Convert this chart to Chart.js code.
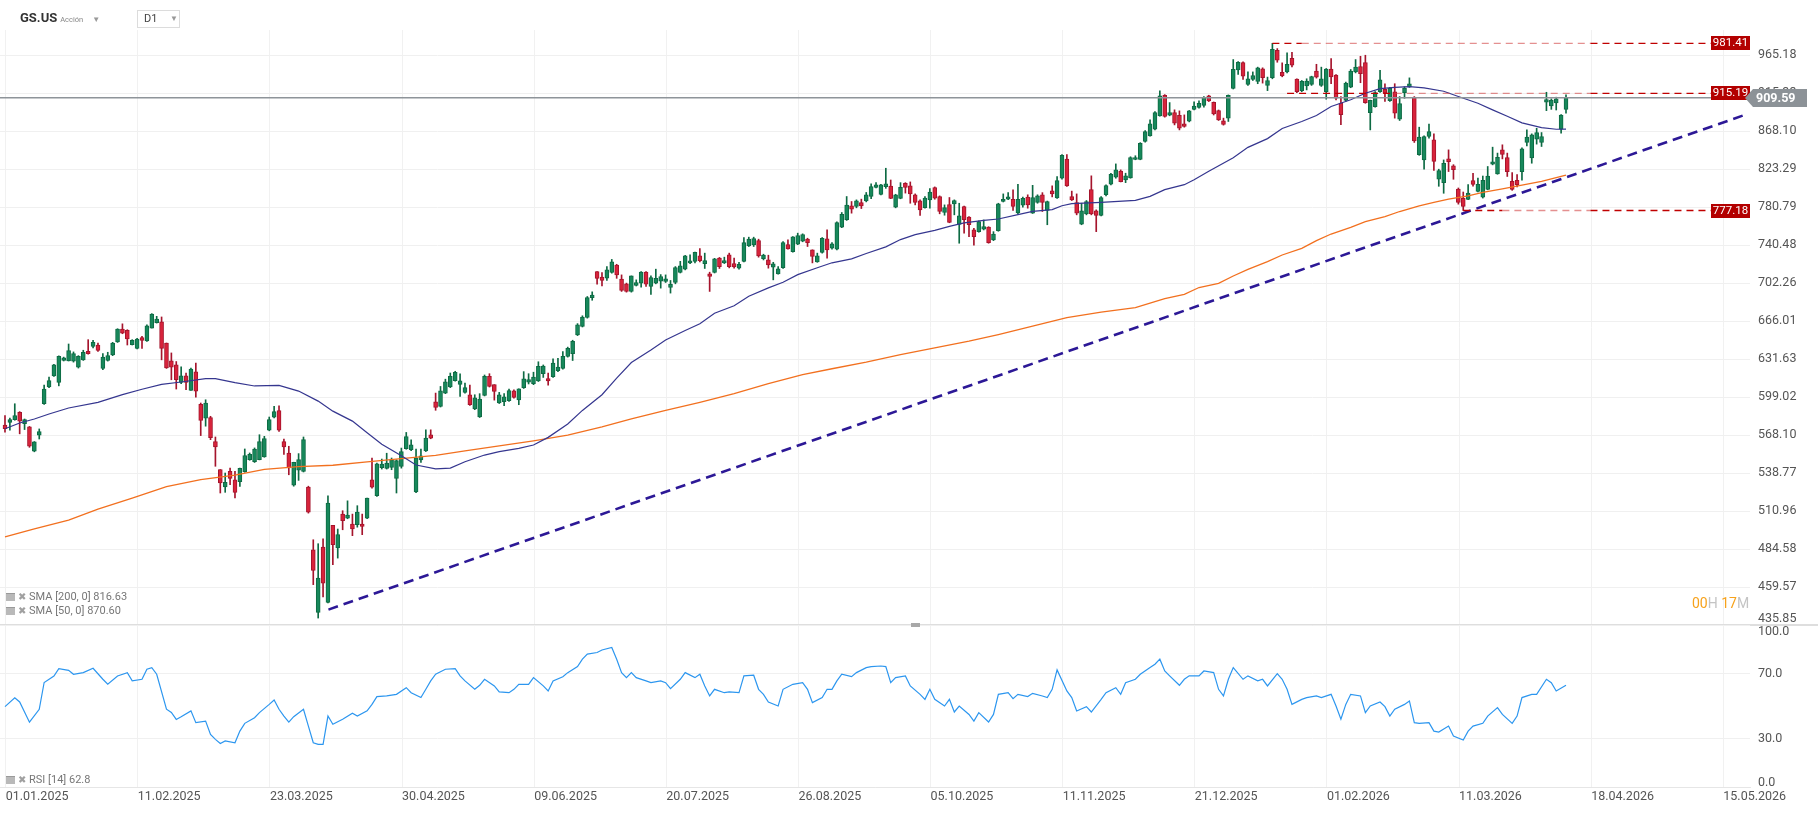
<!DOCTYPE html>
<html lang="es">
<head>
<meta charset="utf-8">
<title>GS.US D1</title>
<script src="https://cdn.jsdelivr.net/npm/chart.js@4.4.1/dist/chart.umd.min.js"></script>
<style>
  html, body { margin: 0; padding: 0; background: #fff; }
  body { position: relative; width: 1818px; height: 813px; overflow: hidden; font-family: Roboto, Arial, sans-serif; }
  canvas { position: absolute; left: 0; }
  #main { top: 0; }
  #rsi { top: 624px; }
  .abs { position: absolute; white-space: nowrap; }
  #sym { left: 20px; top: 10px; font-size: 13px; font-weight: bold; color: #333; }
  #sym small { font-size: 7.5px; font-weight: normal; color: #888; margin-left: 3px; }
  .car { font-size: 8px; color: #999; font-weight: normal; }
  #sym .car { margin-left: 9px; }
  #tf { left: 137px; top: 10px; width: 41px; height: 16px; border: 1px solid #dcdcdc; font-size: 11px; color: #444; line-height: 16px; box-sizing: content-box; }
  #tf span.t { margin-left: 6px; }
  #tf .car { position: absolute; left: 32px; top: 0; }
  .leg { left: 6px; font-size: 11px; color: #777; line-height: 13px; }
  .ico { display: inline-block; width: 9px; height: 7px; background: #b9b9b9; border-top: 1px solid #9a9a9a; vertical-align: -1px; }
  .x { color: #a0a0a0; font-size: 10px; margin: 0 3px 0 3px; }
  #sep { left: 0; top: 624px; width: 1818px; height: 2px; background: #dedede; }
  #grip { left: 911px; top: 623px; width: 9px; height: 4px; background: #a8a8a8; }
  #clock { left: 1692px; top: 595px; font-size: 14px; }
  #clock .o { color: #f7a21b; }
  #clock .g { color: #c4c4c4; }
</style>
</head>
<body>
<canvas id="main" width="1818" height="626"></canvas>
<div id="sep" class="abs"></div>
<canvas id="rsi" width="1818" height="189"></canvas>

<div id="sym" class="abs">GS.US<small>Acción</small><span class="car">&#9660;</span></div>
<div id="tf" class="abs"><span class="t">D1</span><span class="car">&#9660;</span></div>
<div class="abs leg" style="top:590px"><span class="ico"></span><span class="x">&#10006;</span>SMA [200, 0] 816.63</div>
<div class="abs leg" style="top:604px"><span class="ico"></span><span class="x">&#10006;</span>SMA [50, 0] 870.60</div>
<div id="clock" class="abs"><span class="o">00</span><span class="g">H</span> <span class="o">17</span><span class="g">M</span></div>
<div id="grip" class="abs"></div>
<div class="abs leg" style="top:773px"><span class="ico"></span><span class="x">&#10006;</span>RSI [14] 62.8</div>

<script>
// axis labels
var dateLabels = ['01.01.2025', '11.02.2025', '23.03.2025', '30.04.2025', '09.06.2025', '20.07.2025', '26.08.2025',
                  '05.10.2025', '11.11.2025', '21.12.2025', '01.02.2026', '11.03.2026', '18.04.2026', '15.05.2026'];
var priceTicks = [435.85, 459.57, 484.58, 510.96, 538.77, 568.10, 599.02, 631.63, 666.01, 702.26,
                  740.48, 780.79, 823.29, 868.10, 915.33, 965.18];
var rsiTicks = [0, 30, 70, 100];

// daily candles, one entry per session
var opens = [
576.0,578.3,580.5,586.4,577.3,574.7,555.4,568.1,593.5,607.5,
617.1,611.4,630.5,630.1,629.9,624.6,631.0,638.6,643.0,644.2,
623.5,630.4,635.3,646.9,658.7,657.5,644.5,641.2,650.8,647.8,
659.6,664.7,665.4,646.0,630.1,626.6,611.4,617.1,604.7,620.5,
593.0,581.6,582.1,563.0,541.4,528.4,540.1,533.8,532.3,539.9,
549.0,547.5,549.0,551.0,572.0,582.4,587.8,563.0,554.1,529.7,
540.9,540.1,528.3,484.1,443.6,485.9,449.8,500.8,485.3,508.8,
506.0,501.7,501.3,501.7,506.0,533.8,522.0,542.8,542.3,543.0,
534.8,543.8,557.4,556.6,524.7,548.8,555.6,568.4,595.1,591.3,
602.4,607.5,613.0,609.7,603.0,601.0,589.2,582.7,600.4,616.6,
609.5,594.2,595.3,596.1,604.3,596.6,607.0,611.6,610.4,612.6,
618.9,614.7,616.3,621.6,623.4,634.0,636.5,653.3,661.2,669.4,
688.3,713.8,708.2,707.2,712.8,720.2,706.2,701.6,694.2,700.0,
702.3,713.1,699.0,702.3,704.2,703.9,698.1,702.9,712.8,716.1,
722.4,724.0,729.5,721.7,711.4,712.8,727.2,722.4,730.5,721.7,
717.1,724.0,739.8,740.8,745.3,726.6,725.4,718.0,711.4,717.7,
741.2,733.7,741.5,744.6,746.7,735.7,723.4,733.0,747.0,737.4,
736.4,759.3,767.2,782.2,781.5,785.9,787.7,792.5,802.7,794.8,
803.5,804.2,780.8,790.5,807.3,804.4,794.4,787.7,780.4,788.8,
802.5,792.5,775.0,783.7,784.4,762.3,781.5,770.0,756.4,754.6,
757.1,759.3,745.9,755.7,787.0,789.5,789.5,774.7,782.9,791.8,
774.3,785.9,794.4,777.2,798.8,791.0,813.0,835.0,792.5,785.8,
762.6,773.6,800.3,776.8,771.8,794.6,806.4,814.1,821.0,811.1,
813.4,834.6,834.6,855.8,862.5,870.6,886.9,912.8,887.7,891.0,
887.7,877.1,880.3,895.0,897.3,900.0,912.0,903.9,893.4,880.8,
884.1,921.6,945.6,955.3,926.7,933.1,930.5,947.1,925.4,935.3,
972.0,942.6,943.0,961.2,933.6,918.7,924.6,926.8,944.2,925.4,
917.3,946.7,938.8,902.8,906.2,923.3,943.0,950.1,955.3,891.0,
898.5,917.4,920.4,905.9,917.0,882.8,916.2,923.7,909.8,840.2,
834.0,861.7,857.6,811.8,808.1,835.2,827.3,800.9,790.4,789.3,
810.3,798.3,791.9,800.5,829.0,817.9,845.8,836.7,809.5,810.7,
820.6,854.6,836.4,858.5,854.6,904.0,899.3,903.2,870.5,895.0
];
var highs = [
583.7,581.8,593.5,587.0,581.0,575.0,563.0,573.0,609.2,616.0,
627.0,634.5,633.4,645.1,638.0,634.7,639.5,649.0,648.4,646.0,
636.5,637.7,646.6,659.0,663.5,658.1,649.0,650.2,652.0,662.6,
673.0,670.5,669.9,646.0,637.1,629.5,624.9,619.4,623.8,628.1,
594.1,596.8,583.2,566.6,541.4,538.8,542.6,540.1,542.6,557.2,
554.1,558.0,568.4,567.1,582.6,591.3,591.8,565.0,559.3,547.0,
553.6,566.6,529.0,490.9,488.2,491.6,522.0,500.8,498.3,511.2,
518.3,508.8,514.8,508.8,520.3,550.2,546.3,549.4,553.9,550.2,
548.8,557.9,570.2,564.4,557.1,557.1,572.3,572.3,602.4,608.0,
614.2,619.5,621.0,618.9,610.8,609.1,601.0,601.9,617.8,618.9,
609.5,603.0,601.9,605.7,605.2,606.0,620.7,618.9,620.2,629.3,
626.5,619.5,631.9,632.3,638.4,642.3,648.5,663.7,671.0,689.3,
693.8,713.8,712.8,718.8,725.9,721.0,710.4,702.3,709.4,705.5,
713.8,713.8,709.4,716.1,710.7,710.4,704.9,718.7,724.0,730.0,
730.5,733.5,737.0,732.3,713.1,727.0,727.9,728.2,732.3,727.2,
723.0,748.4,748.8,748.8,746.7,731.2,730.2,723.0,718.7,744.3,
746.0,749.5,753.0,752.3,747.7,735.7,732.3,748.4,756.5,743.2,
764.9,775.0,792.5,787.0,788.8,789.6,797.0,806.6,808.0,806.0,
824.4,811.0,795.0,808.0,808.0,808.8,795.4,788.8,792.5,801.4,
803.2,793.2,783.3,791.4,788.8,785.1,782.0,770.7,758.2,766.0,
767.0,759.8,754.6,785.1,795.4,796.8,799.8,806.1,791.8,794.4,
805.0,794.4,796.8,787.5,804.4,815.0,840.2,840.2,798.5,795.4,
785.1,788.1,815.7,777.9,792.5,805.4,818.7,829.4,822.5,818.7,
837.7,838.9,854.4,869.0,881.9,892.3,918.3,913.6,903.5,894.4,
893.1,888.1,893.6,904.4,905.6,911.1,912.8,904.3,894.2,884.1,
913.2,959.4,956.7,956.2,943.0,943.0,949.3,948.4,936.2,981.41,
974.2,955.0,968.3,969.2,934.0,931.8,934.0,937.4,953.1,949.3,
947.5,960.7,939.6,911.1,929.7,946.2,959.4,963.8,965.2,906.6,
917.4,945.1,927.6,922.9,927.6,911.1,923.7,935.2,911.1,873.0,
862.5,876.7,864.9,823.3,834.0,845.8,828.5,802.0,797.5,805.7,
818.7,813.3,815.5,826.4,849.0,842.0,851.8,842.0,819.4,817.1,
848.2,869.7,864.9,871.7,866.5,916.6,908.2,910.3,888.5,913.2
];
var lows = [
570.4,572.0,580.0,569.1,572.5,558.5,555.0,565.0,593.0,607.0,
616.5,608.5,630.0,630.0,629.0,623.8,630.5,636.0,641.5,638.5,
622.3,629.9,634.7,646.5,654.4,644.2,644.2,640.6,641.2,647.5,
659.6,664.2,631.0,623.5,613.7,605.8,610.3,605.3,604.7,599.0,
567.7,575.2,564.5,543.9,524.0,524.5,530.2,520.4,528.9,539.4,
548.5,546.8,548.8,550.8,571.5,581.8,571.0,553.0,537.5,529.0,
533.3,539.6,509.5,461.1,440.1,453.2,449.5,474.1,478.5,497.8,
505.5,493.7,499.6,494.4,505.5,527.6,521.5,541.8,541.8,541.3,
524.0,542.5,557.0,555.8,524.2,546.8,555.2,565.2,588.1,590.8,
601.9,607.0,612.5,599.6,602.4,592.1,588.6,582.2,600.0,607.5,
596.5,593.7,591.9,595.5,598.2,592.7,606.3,610.1,609.5,612.2,
615.7,609.1,615.8,620.7,622.8,633.4,630.4,652.7,660.6,668.8,
685.7,701.3,699.6,704.9,712.1,707.0,694.2,693.5,693.5,699.5,
698.4,699.0,691.3,701.6,697.4,702.9,692.6,701.6,712.3,715.4,
721.7,722.4,723.4,716.8,694.2,712.3,716.8,721.7,717.4,717.1,
716.1,723.5,739.1,739.1,728.2,725.4,717.1,705.5,711.1,716.8,
736.4,733.2,741.0,744.0,739.1,722.4,723.0,732.3,727.2,736.4,
735.7,758.8,766.5,774.3,780.1,779.3,786.6,790.1,802.0,794.3,
801.6,790.1,780.1,790.0,796.3,785.1,783.3,771.8,779.7,779.7,
789.5,773.6,772.1,764.0,772.5,742.5,752.9,749.4,740.5,754.0,
756.4,742.5,745.2,755.0,786.5,789.0,777.2,773.6,780.8,779.7,
774.0,785.1,776.1,761.9,792.1,790.5,811.9,803.7,788.1,772.5,
761.9,772.5,772.5,754.6,771.4,793.2,805.4,813.0,808.8,808.0,
813.0,834.2,834.2,855.0,862.0,869.7,886.5,885.3,887.0,875.8,
869.7,873.0,879.5,894.4,896.4,897.7,904.8,888.0,881.2,875.5,
880.0,920.8,939.6,933.1,925.4,931.8,927.6,928.4,918.7,934.0,
955.8,936.6,941.7,949.6,916.2,917.3,919.6,925.4,934.9,924.1,
907.8,927.6,907.0,876.0,905.0,922.4,941.7,928.9,902.6,869.7,
897.7,916.5,905.0,905.0,884.1,881.2,909.0,922.9,854.6,839.4,
823.3,859.6,821.8,803.9,796.1,820.6,811.8,784.1,777.18,789.0,
803.9,797.5,790.8,800.0,828.3,817.5,835.2,815.0,799.4,803.2,
810.7,850.6,830.2,852.6,849.8,893.4,895.0,894.2,865.7,890.1
];
var closes = [
573.3,580.5,583.7,579.2,580.5,559.3,562.7,570.9,605.8,613.1,
626.6,634.1,632.8,639.1,636.5,634.1,637.7,636.5,646.6,639.4,
633.5,634.7,646.0,658.7,655.0,649.6,648.4,649.6,648.4,661.7,
672.7,668.0,641.2,624.0,624.6,613.7,617.1,611.4,622.9,603.9,
579.9,594.1,566.1,558.8,531.4,531.9,534.8,524.5,542.4,552.1,
553.1,557.2,563.0,565.3,580.5,587.0,572.0,558.8,542.6,547.0,
549.0,564.5,510.1,470.4,465.4,462.1,516.7,487.5,494.4,504.1,
508.1,498.3,510.2,500.1,520.3,528.3,545.8,545.6,546.3,548.8,
548.3,555.1,567.0,560.5,550.2,551.9,565.7,565.7,590.5,604.3,
611.9,616.6,620.0,612.8,607.0,592.7,598.5,597.4,616.6,608.1,
603.8,601.0,599.3,604.6,598.7,606.0,614.4,613.9,616.0,625.2,
625.5,612.6,628.1,624.6,634.0,641.2,647.6,662.7,669.7,688.3,
690.6,706.9,704.9,715.5,723.4,710.4,695.2,694.2,709.4,702.9,
713.1,701.3,707.8,706.9,708.8,706.5,701.0,717.7,719.4,729.5,
724.4,733.0,724.7,724.7,708.8,726.6,718.7,724.7,718.7,718.4,
721.0,743.2,746.7,747.4,729.5,730.2,720.4,721.4,716.4,743.2,
736.7,749.2,750.5,751.6,743.2,729.0,729.5,747.7,735.7,741.9,
764.2,773.0,783.0,778.6,787.7,782.2,794.4,803.5,805.4,805.4,
806.6,790.5,794.4,802.7,802.7,795.4,786.1,777.9,790.8,797.4,
790.8,776.1,780.4,764.4,788.1,771.4,767.2,761.9,749.4,765.3,
760.0,743.2,752.0,784.4,789.5,792.1,781.5,789.5,790.6,783.3,
791.4,793.2,785.9,787.0,795.4,810.4,839.3,804.4,788.8,774.3,
776.8,787.0,773.6,771.8,791.4,804.7,817.5,822.5,809.2,815.7,
836.9,836.9,853.6,867.7,877.1,891.0,911.9,886.1,891.0,877.9,
871.7,873.9,893.1,899.2,902.7,910.2,905.7,889.3,882.0,876.3,
912.8,946.4,955.8,937.4,934.0,938.3,948.4,935.4,931.8,973.3,
958.5,937.9,953.1,951.9,917.3,930.6,931.0,937.0,936.2,934.0,
946.7,936.6,909.1,888.4,928.4,944.2,949.3,940.8,903.4,906.2,
916.2,932.6,915.3,921.6,890.1,902.1,921.6,927.6,856.5,860.9,
861.7,867.7,832.4,821.8,830.2,832.1,822.7,786.0,781.5,796.4,
806.1,806.1,810.7,815.5,831.7,837.1,840.4,820.6,800.5,805.7,
847.0,860.9,863.7,866.5,861.7,907.4,906.6,908.2,888.0,909.59
];

// indicators: [session index, value]
var sma200 = [[0,492.9],[6,498.4],[13,504.5],[19,512.4],[26,520.3],[33,528.7],[40,533.8],[47,537.3],[53,541.6],
  [60,543.7],[67,544.7],[74,547.2],[81,549.8],[88,552.3],[94,555.7],[101,559.6],[108,563.5],[115,568.0],
  [122,574.6],[128,581.1],[135,588.1],[142,594.7],[149,602.0],[156,610.5],[163,618.2],[169,623.2],[176,629.0],
  [183,635.6],[190,641.6],[197,647.6],[203,653.6],[210,661.3],[217,669.2],[224,674.5],[231,678.6],[237,687.2],
  [241,691.4],[244,698.0],[248,702.0],[251,709.3],[254,715.9],[258,723.6],[261,730.4],[265,737.2],[268,745.2],
  [271,752.1],[275,759.2],[278,765.3],[282,770.7],[285,776.1],[289,782.3],[292,786.0],[295,789.6],[299,793.3],
  [302,797.0],[306,801.0],[310,805.1],[314,809.5],[317,813.8],[319,816.6]];
var sma50 = [[0,573.2],[3,577.8],[6,581.0],[9,585.1],[13,590.0],[19,594.7],[24,601.1],[28,605.6],[32,609.8],
  [36,611.8],[41,614.7],[43,614.7],[47,611.2],[51,608.4],[56,608.9],[60,604.1],[64,595.7],[67,587.4],[71,579.3],
  [74,570.0],[77,560.9],[81,552.0],[84,544.9],[88,542.0],[91,542.5],[94,547.4],[98,552.5],[101,555.1],[105,557.7],
  [108,560.3],[111,566.3],[115,577.0],[118,588.0],[122,601.0],[125,615.1],[128,628.6],[132,639.8],[135,648.8],
  [139,657.3],[142,663.5],[145,673.4],[149,680.4],[152,689.5],[156,697.6],[159,703.2],[162,710.7],[166,717.5],
  [169,722.5],[173,726.5],[176,731.9],[180,738.7],[183,746.3],[186,751.4],[190,756.0],[193,760.2],[196,763.8],
  [200,766.6],[203,768.0],[207,772.7],[210,776.3],[214,778.1],[216,782.4],[218,784.6],[224,786.1],[231,788.3],
  [234,792.7],[237,800.1],[241,805.7],[243,811.3],[246,820.9],[251,836.6],[254,848.8],[258,859.2],[261,871.4],
  [265,879.9],[268,887.4],[271,898.6],[275,907.1],[278,915.4],[281,921.3],[284,923.0],[287,923.9],[290,922.2],
  [294,917.9],[297,911.2],[301,902.6],[304,894.4],[307,886.5],[310,878.3],[314,872.5],[317,870.5],[319,870.6]];
var rsi14 = [[0,49.6],[2,55],[3,52.5],[5,40],[7,48],[8,64.5],[10,68.5],[11,73],[13,72],[14,69.6],[16,70.6],[18,73.3],
  [20,66.5],[21,63.4],[23,68.5],[25,70.6],[26,65.5],[28,66.5],[29,72.7],[30,73.7],[31,69.6],[33,48],[34,46],[35,41.7],
  [36,43.4],[38,47],[39,39.7],[41,40.7],[42,32.5],[43,29.4],[44,26.9],[45,28.4],[47,27.3],[48,34.5],[49,39.3],
  [51,42.8],[52,45.9],[54,51],[55,53.7],[56,48],[57,43.8],[58,40.1],[59,43.4],[61,48],[62,37.6],[63,27.3],[64,26.3],
  [65,26.3],[66,43.8],[67,38.7],[69,41.8],[71,45.5],[72,43.8],[74,47],[75,51],[76,55.8],[78,56.2],[80,57.2],[82,61.3],
  [83,58.2],[85,55.2],[86,60.3],[87,65.5],[88,69.6],[90,72.7],[92,73.1],[93,68.6],[94,65.5],[96,60.3],[97,62.8],
  [98,66.5],[100,62.4],[101,58.7],[103,58.2],[104,60.3],[105,63.4],[107,63.4],[108,67.5],[110,62.4],[111,59.3],
  [112,65.5],[114,68.1],[115,70.6],[117,74.3],[118,78.9],[119,82],[121,83],[122,84.6],[124,86.1],[125,78.9],
  [126,70.6],[127,67.5],[128,70.6],[129,67.5],[131,65.5],[132,64.4],[134,65.5],[135,64.4],[136,60.7],[138,66.5],
  [139,70.6],[141,67.5],[142,69.6],[143,62.4],[144,56.2],[145,60.3],[147,58.2],[148,58.7],[150,58.2],[151,68.6],
  [153,69],[154,60.3],[155,57.2],[156,52.5],[158,50],[159,60.3],[161,63.4],[163,64.4],[164,60.3],[165,52.1],
  [167,55.2],[168,60.3],[169,60.3],[170,65.5],[171,69.6],[173,68.1],[174,70.6],[176,73.7],[177,74.3],[179,74.7],
  [180,74.3],[181,64.4],[182,67.5],[184,68.6],[185,62.4],[187,57.2],[188,54.1],[189,60.3],[190,54.1],[192,50],
  [193,54.1],[194,46.3],[195,50],[197,44.8],[198,40.7],[199,45.9],[201,40.1],[202,44.8],[203,57.2],[205,58.2],
  [206,54.5],[207,57.2],[209,55.8],[210,57.8],[212,56.2],[213,55.2],[214,60.3],[215,72.3],[217,59.3],[218,55.2],
  [219,46.9],[221,49.6],[222,46.3],[224,54.1],[225,58.2],[227,61.3],[228,57.2],[229,64.4],[231,66.5],[232,69.6],
  [234,73.7],[235,75.8],[236,78.9],[237,71.6],[238,68.6],[240,62.8],[241,66.5],[242,68.6],[244,68.6],[245,71.6],
  [247,70.6],[248,60.3],[249,56.2],[250,66.5],[251,73.7],[253,66.5],[254,68.6],[256,65.5],[257,66.5],[258,62.4],
  [260,70],[261,66.5],[262,60.3],[263,51],[265,54.1],[266,55.2],[268,56.2],[269,55.2],[271,57.2],[272,50],
  [273,41.8],[274,51],[275,57.2],[277,56.2],[278,45.9],[279,50],[281,52.5],[282,49.6],[283,43.8],[284,48],[286,51],
  [287,53.1],[288,39.7],[289,39.3],[291,39.7],[292,34.5],[293,33.9],[295,37.6],[296,31.4],[298,29],[299,34.5],
  [300,37.6],[302,39.3],[303,43.8],[305,49],[306,44.8],[308,39.3],[309,43.8],[310,55.2],[312,57.2],[313,57.2],
  [315,66.5],[316,64.4],[317,59.3],[319,62.8]];

// drawings on the price panel
var trendLine = [[66.1, 445.3], [355.9, 888.9]];
var levels = [981.41, 915.19, 777.18];
var levelFrom = [259, 262, 298];
var lastPrice = 909.59;

// ---- layout / style settings ----
var xMin = -1.02, xMax = 356.6;       // visible session range
var tickStart = 0.14, tickStep = 27;   // date grid spacing in sessions
var lightFrom = [265, 284, 306], lightTo = 324, levelEnd = 348.6;
var upFill = '#17885b', upEdge = '#0d6a43', dnFill = '#d8233b', dnEdge = '#a5142c';

function pts(list) {
    return list.map(function (p) { return { x: p[0], y: p[1] }; });
}

var wicks = [], bodies = [], fillCol = [], edgeCol = [];
for (var i = 0; i < closes.length; i++) {
    var rising = closes[i] >= opens[i];
    wicks.push({ x: i, y: [lows[i], highs[i]] });
    bodies.push({ x: i, y: [Math.min(opens[i], closes[i]), Math.max(opens[i], closes[i])] });
    fillCol.push(rising ? upFill : dnFill);
    edgeCol.push(rising ? upEdge : dnEdge);
}

function xAxis(withLabels) {
    return {
        type: 'linear', min: xMin, max: xMax, offset: false,
        afterBuildTicks: function (s) {
            s.ticks = dateLabels.map(function (d, k) { return { value: tickStart + tickStep * k }; });
        },
        afterFit: function (s) { s.height = withLabels ? 26 : 0; },
        grid: { color: '#f1f1f1', drawTicks: false, offset: false },
        border: { display: withLabels, color: '#e6e6e6' },
        ticks: {
            display: withLabels, autoSkip: false, maxRotation: 0, align: 'start', padding: 2,
            color: '#555', font: { size: 12.5, family: 'Roboto, Arial' },
            callback: function (v, k) { return dateLabels[k]; }
        }
    };
}

function yAxis(opts) {
    return Object.assign({
        position: 'right',
        afterFit: function (s) { s.width = 68; },
        grid: { color: '#f0f0f0', drawTicks: false },
        border: { display: false },
        ticks: { display: false }
    }, opts);
}

// right-hand value labels, kept inside the panel at the edges
function yLabels(values, digits, padTop, padBottom) {
    return {
        id: 'yLabels' + digits,
        afterDatasetsDraw: function (chart) {
            var s = chart.scales.y, a = chart.chartArea, ctx = chart.ctx;
            ctx.save();
            ctx.font = '12.5px Roboto, Arial';
            ctx.fillStyle = '#555';
            ctx.textBaseline = 'middle';
            ctx.textAlign = 'left';
            values.forEach(function (v) {
                var y = Math.min(Math.max(s.getPixelForValue(v), a.top + padTop), a.bottom - padBottom);
                ctx.fillText(v.toFixed(digits), a.right + 8, y);
            });
            ctx.restore();
        }
    };
}

var priceTags = {
    id: 'priceTags',
    afterDatasetsDraw: function (chart) {
        var s = chart.scales.y, a = chart.chartArea, ctx = chart.ctx;
        ctx.save();
        ctx.textBaseline = 'middle';
        ctx.textAlign = 'center';
        ctx.font = '11.5px Roboto, Arial';
        levels.forEach(function (v) {
            var y = Math.round(s.getPixelForValue(v));
            ctx.fillStyle = '#b30000';
            ctx.fillRect(a.right - 39, y - 7, 39, 14);
            ctx.fillStyle = '#fff';
            ctx.fillText(v.toFixed(2), a.right - 19.5, y + 0.5);
        });
        var y = Math.round(s.getPixelForValue(lastPrice));
        ctx.fillStyle = '#8c9297';
        ctx.beginPath();
        ctx.moveTo(a.right - 5, y);
        ctx.lineTo(a.right + 3, y - 9);
        ctx.lineTo(a.right + 57, y - 9);
        ctx.lineTo(a.right + 57, y + 9);
        ctx.lineTo(a.right + 3, y + 9);
        ctx.closePath();
        ctx.fill();
        ctx.fillStyle = '#fff';
        ctx.font = 'bold 12.5px Roboto, Arial';
        ctx.textAlign = 'left';
        ctx.fillText(lastPrice.toFixed(2), a.right + 6, y + 0.5);
        ctx.restore();
    }
};

var mainSets = [
    { type: 'bar', data: wicks, backgroundColor: edgeCol, barThickness: 1, grouped: false, order: 10 },
    { type: 'bar', data: bodies, backgroundColor: fillCol, borderColor: edgeCol, borderWidth: 1,
      borderSkipped: false, barThickness: 4, minBarLength: 1, grouped: false, order: 9 },
    { type: 'line', data: pts(sma200), borderColor: '#f2701f', borderWidth: 1.3, pointRadius: 0, tension: 0, order: 8 },
    { type: 'line', data: pts(sma50), borderColor: '#35368f', borderWidth: 1.2, pointRadius: 0, tension: 0, order: 7 },
    { type: 'line', data: pts(trendLine), borderColor: '#2c1896', borderWidth: 2.6, borderDash: [10, 6],
      pointRadius: 0, order: 6 },
    { type: 'line', data: [{ x: xMin, y: lastPrice }, { x: xMax, y: lastPrice }], borderColor: '#8e9499',
      borderWidth: 1.4, pointRadius: 0, order: 5 }
];
levels.forEach(function (v, k) {
    mainSets.push({
        type: 'line',
        data: [{ x: levelFrom[k], y: v }, { x: lightFrom[k], y: v }, { x: lightTo, y: v }, { x: levelEnd, y: v }],
        borderColor: '#c00000', borderWidth: 1.3, borderDash: [7, 5], pointRadius: 0, order: 4,
        segment: {
            borderColor: function (c) { return c.p0DataIndex === 1 ? 'rgba(210,70,70,0.6)' : '#c00000'; }
        }
    });
});

new Chart(document.getElementById('main'), {
    type: 'bar',
    data: { datasets: mainSets },
    options: {
        responsive: false, animation: false, events: [],
        layout: { padding: { top: 30, bottom: 1, left: 0, right: 0 } },
        plugins: { legend: { display: false }, tooltip: { enabled: false } },
        scales: {
            x: xAxis(false),
            y: yAxis({
                type: 'logarithmic', min: 435.85, max: 999.8,
                afterBuildTicks: function (s) { s.ticks = priceTicks.map(function (v) { return { value: v }; }); }
            })
        }
    },
    plugins: [yLabels(priceTicks, 2, 6, 6), priceTags]
});

new Chart(document.getElementById('rsi'), {
    type: 'line',
    data: {
        datasets: [{ data: pts(rsi14), borderColor: '#2c96ef', borderWidth: 1.2, pointRadius: 0, tension: 0 }]
    },
    options: {
        responsive: false, animation: false, events: [],
        layout: { padding: { top: 1, bottom: 0, left: 0, right: 0 } },
        plugins: { legend: { display: false }, tooltip: { enabled: false } },
        scales: {
            x: xAxis(true),
            y: yAxis({
                type: 'linear', min: 0, max: 100,
                afterBuildTicks: function (s) { s.ticks = rsiTicks.map(function (v) { return { value: v }; }); }
            })
        }
    },
    plugins: [yLabels(rsiTicks, 1, 7, 4.5)]
});
</script>
</body>
</html>
